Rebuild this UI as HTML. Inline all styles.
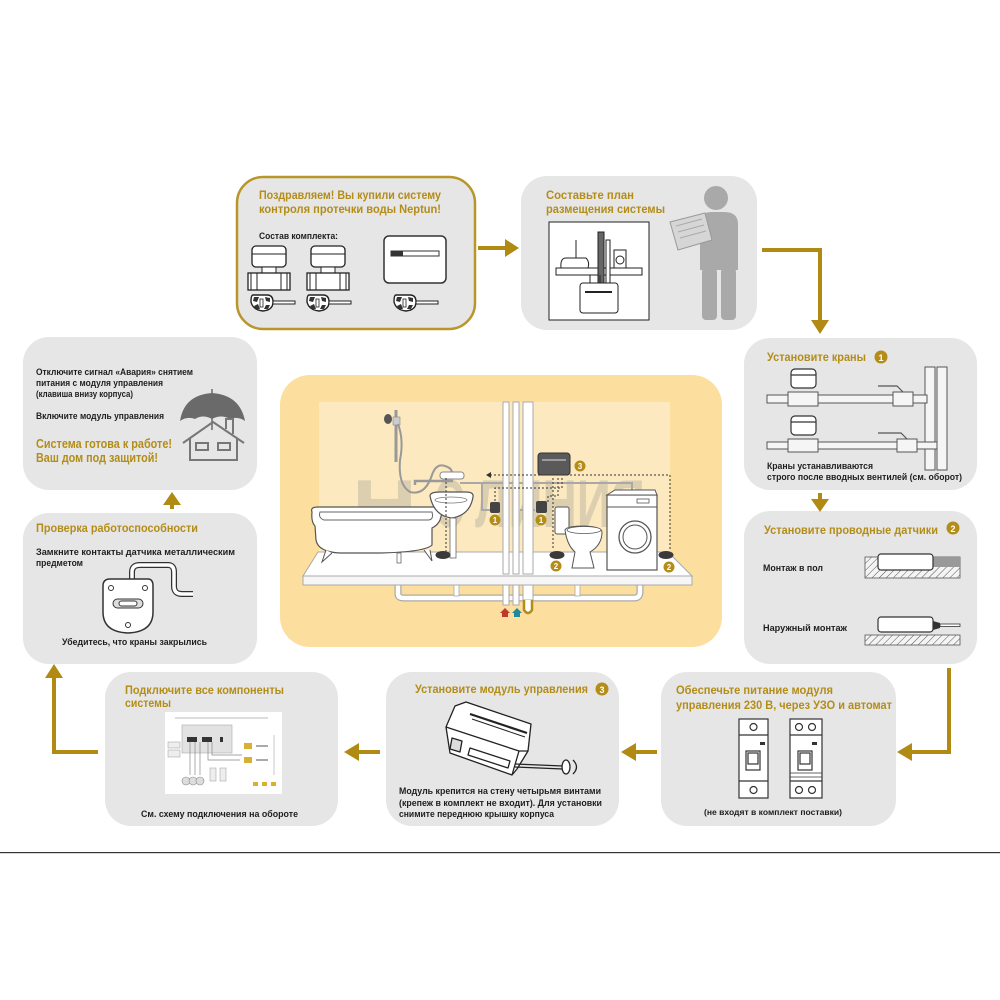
<!DOCTYPE html>
<html><head><meta charset="utf-8"><style>
html,body{margin:0;padding:0;background:#fff;width:1000px;height:1000px;overflow:hidden}
svg{display:block}
.t{font-family:"Liberation Sans","DejaVu Sans",sans-serif;font-weight:bold}
.g{fill:#b38d18}
.b{fill:#1e1e1e}
</style></head><body>
<svg width="1000" height="1000" viewBox="0 0 1000 1000" xmlns="http://www.w3.org/2000/svg">
<defs>
<pattern id="hatch" width="5" height="5" patternUnits="userSpaceOnUse" patternTransform="rotate(45)">
<rect width="5" height="5" fill="#f4f4f4"/><line x1="0" y1="0" x2="0" y2="5" stroke="#555" stroke-width="1"/>
</pattern>
<g id="valve">
<rect x="5" y="0" width="34" height="21" rx="4" fill="#fff" stroke="#222" stroke-width="1.3"/>
<line x1="5" y1="8" x2="39" y2="8" stroke="#222" stroke-width="1"/>
<rect x="15" y="21" width="14" height="6" fill="#fff" stroke="#222" stroke-width="1"/>
<rect x="1" y="27" width="42" height="17" fill="#fff" stroke="#222" stroke-width="1.3"/>
<line x1="10" y1="27" x2="10" y2="44" stroke="#222"/><line x1="34" y1="27" x2="34" y2="44" stroke="#222"/>
<line x1="4" y1="27" x2="4" y2="44" stroke="#222"/><line x1="40" y1="27" x2="40" y2="44" stroke="#222"/>
</g>
<g id="sensor">
<path d="M3 2 H17 Q23 2 23 9 Q23 17 13 18 Q3 17 1 9 Q1 2 3 2 Z" fill="#fff" stroke="#222" stroke-width="1.4"/>
<path d="M4 4 L9 4 L7 9 L3 8 Z M4 13 L8 11 L10 16 L6 16 Z M15 4 L20 5 L20 9 L16 8 Z M16 12 L20 12 L18 16 L14 16 Z" fill="#333"/>
<rect x="10" y="6" width="3" height="8" fill="#fff" stroke="#222" stroke-width="0.8"/>
<rect x="23" y="8" width="22" height="3" fill="#fff" stroke="#222" stroke-width="1"/>
</g>
</defs>

<!-- Boxes -->
<rect x="237" y="177" width="238" height="152" rx="26" fill="#e6e6e6" stroke="#b8962a" stroke-width="2.5"/>
<rect x="521" y="176" width="236" height="154" rx="26" fill="#e6e6e6"/>
<rect x="23" y="337" width="234" height="153" rx="26" fill="#e6e6e6"/>
<rect x="744" y="338" width="233" height="152" rx="26" fill="#e6e6e6"/>
<rect x="23" y="513" width="234" height="151" rx="26" fill="#e6e6e6"/>
<rect x="744" y="511" width="233" height="153" rx="26" fill="#e6e6e6"/>
<rect x="105" y="672" width="233" height="154" rx="26" fill="#e6e6e6"/>
<rect x="386" y="672" width="233" height="154" rx="26" fill="#e6e6e6"/>
<rect x="661" y="672" width="235" height="154" rx="26" fill="#e6e6e6"/>

<!-- bottom line -->
<rect x="0" y="852" width="1000" height="1.2" fill="#333"/>

<!-- Connectors -->
<g fill="none" stroke="#b08a12" stroke-width="4">
<line x1="478" y1="248" x2="507" y2="248"/>
<polyline points="762,250 820,250 820,322"/>
<polyline points="949,668 949,752 910,752"/>
<line x1="634" y1="752" x2="657" y2="752"/>
<line x1="357" y1="752" x2="380" y2="752"/>
<polyline points="98,752 54,752 54,676"/>
<line x1="820" y1="493" x2="820" y2="500"/>
<line x1="172" y1="502" x2="172" y2="509"/>
</g>
<g fill="#b08a12">
<polygon points="505,239 519,248 505,257"/>
<polygon points="811,320 829,320 820,334"/>
<polygon points="811,499 829,499 820,512"/>
<polygon points="912,743 897,752 912,761"/>
<polygon points="636,743 621,752 636,761"/>
<polygon points="359,743 344,752 359,761"/>
<polygon points="45,678 63,678 54,664"/>
<polygon points="163,505 181,505 172,492"/>
</g>

<!-- Box1 -->
<text class="t g" x="259" y="199" font-size="11.5" textLength="182" lengthAdjust="spacingAndGlyphs">Поздравляем! Вы купили систему</text>
<text class="t g" x="259" y="213" font-size="11.5" textLength="182" lengthAdjust="spacingAndGlyphs">контроля протечки воды Neptun!</text>
<text class="t b" x="259" y="239" font-size="9" textLength="79" lengthAdjust="spacingAndGlyphs">Состав комплекта:</text>
<use href="#valve" x="247" y="246"/>
<use href="#valve" x="306" y="246"/>
<use href="#sensor" x="250" y="293"/>
<use href="#sensor" x="306" y="293"/>
<use href="#sensor" x="393" y="293"/>
<rect x="384" y="236" width="62" height="47" rx="5" fill="#fff" stroke="#333" stroke-width="1.5"/>
<rect x="391" y="251" width="48" height="5" fill="#fff" stroke="#333" stroke-width="1"/>
<rect x="391" y="251" width="12" height="5" fill="#333"/>

<!-- Box2 -->
<text class="t g" x="546" y="199" font-size="11.5" textLength="88" lengthAdjust="spacingAndGlyphs">Составьте план</text>
<text class="t g" x="546" y="213" font-size="11.5" textLength="119" lengthAdjust="spacingAndGlyphs">размещения системы</text>
<rect x="549" y="222" width="100" height="98" fill="#fff" stroke="#222" stroke-width="1"/>
<g stroke="#222" stroke-width="1" fill="#fff">
<rect x="556" y="268" width="86" height="7"/>
<path d="M561 268 Q560 258 566 258 L586 258 Q590 262 588 268 Z"/>
<rect x="598" y="232" width="6" height="58" fill="#666"/>
<rect x="606" y="240" width="4" height="50"/>
<rect x="614" y="250" width="12" height="18"/>
<circle cx="620" cy="260" r="4"/>
<line x1="576" y1="240" x2="576" y2="258"/>
<rect x="580" y="283" width="38" height="30" rx="3"/>
<line x1="585" y1="292" x2="612" y2="292" stroke-width="2"/>
<line x1="590" y1="275" x2="590" y2="283"/><line x1="600" y1="275" x2="600" y2="283"/><line x1="610" y1="275" x2="610" y2="283"/>
</g>
<g fill="#a9a9a9">
<circle cx="716" cy="198" r="12"/>
<path d="M700 222 Q700 212 712 212 L724 212 Q738 212 738 224 L738 270 L700 270 Z"/>
<rect x="702" y="268" width="15" height="52" rx="4"/>
<rect x="721" y="268" width="15" height="52" rx="4"/>
</g>
<polygon points="670,222 705,213 712,240 678,250" fill="#d6d6d6" stroke="#999" stroke-width="1"/>
<g stroke="#aaa" stroke-width="1"><line x1="676" y1="226" x2="702" y2="219"/><line x1="678" y1="232" x2="704" y2="225"/><line x1="680" y1="238" x2="706" y2="231"/></g>

<!-- Box3 -->
<text class="t b" x="36" y="375" font-size="9" textLength="157" lengthAdjust="spacingAndGlyphs">Отключите сигнал «Авария» снятием</text>
<text class="t b" x="36" y="386" font-size="9" textLength="127" lengthAdjust="spacingAndGlyphs">питания с модуля управления</text>
<text class="t b" x="36" y="397" font-size="9" textLength="97" lengthAdjust="spacingAndGlyphs">(клавиша внизу корпуса)</text>
<text class="t b" x="36" y="419" font-size="9" textLength="128" lengthAdjust="spacingAndGlyphs">Включите модуль управления</text>
<text class="t g" x="36" y="448" font-size="12.5" textLength="136" lengthAdjust="spacingAndGlyphs">Система готова к работе!</text>
<text class="t g" x="36" y="462" font-size="12.5" textLength="122" lengthAdjust="spacingAndGlyphs">Ваш дом под защитой!</text>
<path d="M180 421 Q184 395 212 393 Q240 395 245 421 Q238 416 230 419 Q221 414 212 419 Q203 414 195 419 Q187 416 180 421 Z" fill="#6a6a6a"/>
<line x1="212" y1="389" x2="212" y2="430" stroke="#6a6a6a" stroke-width="1.5"/>
<g fill="none" stroke="#777" stroke-width="2">
<polyline points="183,443 213,422 244,443"/>
<polyline points="190,438 190,460 237,460 237,438"/>
<polyline points="226,429 226,419 233,419 233,434"/>
<rect x="196" y="443" width="12" height="7"/>
<rect x="218" y="443" width="12" height="7"/>
</g>

<!-- Box5 -->
<text class="t g" x="36" y="532" font-size="12" textLength="162" lengthAdjust="spacingAndGlyphs">Проверка работоспособности</text>
<text class="t b" x="36" y="555" font-size="9" textLength="199" lengthAdjust="spacingAndGlyphs">Замкните контакты датчика металлическим</text>
<text class="t b" x="36" y="566" font-size="9" textLength="47" lengthAdjust="spacingAndGlyphs">предметом</text>
<path d="M132 579 L132 572 Q132 565 140 565 L168 565 Q174 565 174 572 L174 586 Q174 594 182 594 L193 594" fill="none" stroke="#333" stroke-width="6"/>
<path d="M132 579 L132 572 Q132 565 140 565 L168 565 Q174 565 174 572 L174 586 Q174 594 182 594 L193 594" fill="none" stroke="#fff" stroke-width="3.5"/>
<path d="M110 579 L148 579 Q153 579 153 586 L153 612 Q153 632 128 633 Q103 632 103 612 L103 586 Q103 579 110 579 Z" fill="#fff" stroke="#333" stroke-width="1.5"/>
<circle cx="111" cy="588" r="2.5" fill="none" stroke="#333"/>
<circle cx="145" cy="588" r="2.5" fill="none" stroke="#333"/>
<circle cx="128" cy="625" r="2.5" fill="none" stroke="#333"/>
<rect x="113" y="599" width="30" height="9" rx="4.5" fill="#ddd" stroke="#333"/>
<rect x="119" y="601" width="18" height="5" rx="2.5" fill="#fff" stroke="#333"/>
<text class="t b" x="62" y="645" font-size="9" textLength="145" lengthAdjust="spacingAndGlyphs">Убедитесь, что краны закрылись</text>

<!-- Box4 -->
<text class="t g" x="767" y="361" font-size="11.5" textLength="99" lengthAdjust="spacingAndGlyphs">Установите краны</text>
<circle cx="881" cy="357" r="6.5" fill="#b38d18"/>
<text class="t" x="881" y="361" font-size="9" fill="#fff" text-anchor="middle">1</text>
<g stroke="#555" stroke-width="1" fill="#f5f5f5">
<rect x="925" y="367" width="10" height="103"/>
<rect x="937" y="367" width="10" height="103"/>
<rect x="767" y="395" width="160" height="8"/>
<rect x="767" y="442" width="170" height="7"/>
<rect x="893" y="392" width="20" height="14"/>
<rect x="897" y="439" width="20" height="13"/>
<rect x="788" y="392" width="30" height="14"/>
<rect x="788" y="439" width="30" height="13"/>
</g>
<g stroke="#333" stroke-width="1.2" fill="#fff">
<rect x="791" y="369" width="25" height="19" rx="4"/>
<rect x="791" y="416" width="25" height="19" rx="4"/>
<line x1="791" y1="375" x2="816" y2="375"/>
<line x1="791" y1="422" x2="816" y2="422"/>
</g>
<g stroke="#555" stroke-width="1.2" fill="none">
<polyline points="878,386 897,386 903,392"/>
<polyline points="878,433 901,433 907,439"/>
</g>
<text class="t b" x="767" y="469" font-size="9" textLength="106" lengthAdjust="spacingAndGlyphs">Краны устанавливаются</text>
<text class="t b" x="767" y="480" font-size="9" textLength="195" lengthAdjust="spacingAndGlyphs">строго после вводных вентилей (см. оборот)</text>

<!-- Box6 -->
<text class="t g" x="764" y="534" font-size="11.5" textLength="174" lengthAdjust="spacingAndGlyphs">Установите проводные датчики</text>
<circle cx="953" cy="528" r="6.5" fill="#b38d18"/>
<text class="t" x="953" y="532" font-size="9" fill="#fff" text-anchor="middle">2</text>
<text class="t b" x="763" y="571" font-size="9" textLength="60" lengthAdjust="spacingAndGlyphs">Монтаж в пол</text>
<text class="t b" x="763" y="631" font-size="9" textLength="84" lengthAdjust="spacingAndGlyphs">Наружный монтаж</text>
<rect x="865" y="557" width="95" height="21" fill="url(#hatch)" stroke="#555" stroke-width="0.8"/>
<rect x="932" y="557" width="28" height="10" fill="#999"/>
<rect x="878" y="554" width="55" height="16" rx="3" fill="#fff" stroke="#333" stroke-width="1.2"/>
<rect x="865" y="635" width="95" height="10" fill="url(#hatch)" stroke="#555" stroke-width="0.8"/>
<rect x="878" y="617" width="55" height="15" rx="3" fill="#fff" stroke="#333" stroke-width="1.2"/>
<polygon points="933,621 940,623 940,628 933,630" fill="#333"/>
<rect x="940" y="624" width="20" height="2.5" fill="#fff" stroke="#333" stroke-width="0.8"/>

<!-- Bottom-left -->
<text class="t g" x="125" y="694" font-size="11.5" textLength="159" lengthAdjust="spacingAndGlyphs">Подключите все компоненты</text>
<text class="t g" x="125" y="707" font-size="11.5" textLength="46" lengthAdjust="spacingAndGlyphs">системы</text>
<rect x="165" y="712" width="117" height="82" fill="#fff"/>
<rect x="182" y="725" width="50" height="28" fill="#e2e2e2" stroke="#aaa" stroke-width="0.6"/>
<rect x="187" y="737" width="10" height="5" fill="#333"/><rect x="202" y="737" width="10" height="5" fill="#333"/><rect x="220" y="737" width="3" height="5" fill="#333"/>
<rect x="168" y="742" width="12" height="6" fill="#eee" stroke="#999" stroke-width="0.5"/>
<rect x="168" y="750" width="12" height="7" fill="#eee" stroke="#999" stroke-width="0.5"/>
<g fill="none" stroke="#888" stroke-width="0.7"><polyline points="190,742 190,775"/><polyline points="195,742 195,775"/><polyline points="200,742 200,775"/><polyline points="208,742 208,760 240,760"/><polyline points="212,742 212,755 242,755"/></g>
<circle cx="186" cy="781" r="4" fill="#ddd" stroke="#888" stroke-width="0.6"/><circle cx="193" cy="781" r="4" fill="#ddd" stroke="#888" stroke-width="0.6"/><circle cx="200" cy="781" r="4" fill="#ddd" stroke="#888" stroke-width="0.6"/>
<rect x="210" y="768" width="6" height="13" fill="#eee" stroke="#999" stroke-width="0.5"/><rect x="220" y="768" width="6" height="13" fill="#eee" stroke="#999" stroke-width="0.5"/>
<rect x="244" y="743" width="8" height="6" fill="#d9b030"/><rect x="244" y="757" width="8" height="6" fill="#d9b030"/>
<line x1="256" y1="746" x2="268" y2="746" stroke="#555" stroke-width="1"/><line x1="256" y1="760" x2="268" y2="760" stroke="#555" stroke-width="1"/>
<line x1="274" y1="735" x2="274" y2="775" stroke="#bbb" stroke-width="0.8"/>
<rect x="253" y="782" width="5" height="4" fill="#d9b030"/><rect x="262" y="782" width="5" height="4" fill="#d9b030"/><rect x="271" y="782" width="5" height="4" fill="#d9b030"/>
<line x1="175" y1="718" x2="268" y2="718" stroke="#bbb" stroke-width="1"/>
<text class="t b" x="141" y="817" font-size="9" textLength="157" lengthAdjust="spacingAndGlyphs">См. схему подключения на обороте</text>

<!-- Bottom-mid -->
<text class="t g" x="415" y="693" font-size="11.5" textLength="173" lengthAdjust="spacingAndGlyphs">Установите модуль управления</text>
<circle cx="602" cy="689" r="6.5" fill="#b38d18"/>
<text class="t" x="602" y="693" font-size="9" fill="#fff" text-anchor="middle">3</text>
<g stroke="#222" stroke-width="1.3" fill="#fff" stroke-linejoin="round">
<polygon points="455,706 466,702 531,724 528,751 517,769 512,775 450,753 446,727"/>
<polyline points="446,727 519,751 528,751" fill="none"/>
<line x1="519" y1="751" x2="512" y2="775"/>
<polygon points="452,738 462,741 460,752 450,749" fill="#ddd"/>
<polygon points="470,748 510,761 508,768 468,755" fill="#fff"/>
<line x1="515" y1="764" x2="563" y2="766"/>
<line x1="515" y1="767" x2="563" y2="769"/>
<ellipse cx="566" cy="767" rx="4" ry="7"/>
<path d="M573 760 Q580 767 573 774" fill="none"/>
</g>
<line x1="470" y1="714" x2="527" y2="733" stroke="#222" stroke-width="2.2"/>
<line x1="472" y1="719" x2="525" y2="737" stroke="#222" stroke-width="1"/>
<text class="t b" x="399" y="794" font-size="9" textLength="202" lengthAdjust="spacingAndGlyphs">Модуль крепится на стену четырьмя винтами</text>
<text class="t b" x="399" y="806" font-size="9" textLength="203" lengthAdjust="spacingAndGlyphs">(крепеж в комплект не входит). Для установки</text>
<text class="t b" x="399" y="817" font-size="9" textLength="155" lengthAdjust="spacingAndGlyphs">снимите переднюю крышку корпуса</text>

<!-- Bottom-right -->
<text class="t g" x="676" y="694" font-size="11.5" textLength="157" lengthAdjust="spacingAndGlyphs">Обеспечьте питание модуля</text>
<text class="t g" x="676" y="709" font-size="11.5" textLength="216" lengthAdjust="spacingAndGlyphs">управления 230 В, через УЗО и автомат</text>
<g stroke="#333" stroke-width="1.2" fill="#fff">
<rect x="739" y="719" width="29" height="79"/>
<line x1="739" y1="735" x2="768" y2="735"/><line x1="739" y1="781" x2="768" y2="781"/>
<circle cx="753.5" cy="727" r="3.5"/><circle cx="753.5" cy="790" r="3.5"/>
<rect x="746" y="751" width="14" height="19"/><rect x="748" y="753" width="10" height="11"/>
<rect x="790" y="719" width="32" height="79"/>
<line x1="790" y1="735" x2="822" y2="735"/><line x1="790" y1="781" x2="822" y2="781"/>
<line x1="790" y1="773" x2="822" y2="773" stroke-width="0.7"/><line x1="790" y1="777" x2="822" y2="777" stroke-width="0.7"/>
<circle cx="799" cy="727" r="3.5"/><circle cx="812" cy="727" r="3.5"/><circle cx="799" cy="790" r="3.5"/><circle cx="812" cy="790" r="3.5"/>
<rect x="798" y="751" width="14" height="19"/><rect x="800" y="753" width="10" height="11"/>
</g>
<rect x="760" y="742" width="5" height="3" fill="#333"/><rect x="812" y="742" width="5" height="3" fill="#333"/>
<text class="t b" x="704" y="815" font-size="8.5" textLength="138" lengthAdjust="spacingAndGlyphs">(не входят в комплект поставки)</text>

<!-- Center illustration -->
<rect x="280" y="375" width="442" height="272" rx="30" fill="#fcdf9e"/>
<rect x="319" y="402" width="351" height="160" fill="#fce9bf"/>
<!-- watermark -->
<g fill="#8d8d8d" opacity="0.28" class="t">
<text x="352" y="527" font-size="68" textLength="65" lengthAdjust="spacingAndGlyphs">H</text>
<text x="415" y="532" font-size="30">2</text>
<text x="434" y="527" font-size="68" textLength="32" lengthAdjust="spacingAndGlyphs">O</text>
<text x="475" y="527" font-size="68" textLength="170" lengthAdjust="spacingAndGlyphs">ЛИНИЯ</text>
</g>
<!-- under-floor pipes -->
<path d="M398 584 L398 594 Q398 598 404 598 L634 598 Q640 598 640 592 L640 584" fill="none" stroke="#aaa" stroke-width="7"/>
<path d="M398 584 L398 594 Q398 598 404 598 L634 598 Q640 598 640 592 L640 584" fill="none" stroke="#fff" stroke-width="4.5"/>
<rect x="454" y="584" width="5" height="12" fill="#fff" stroke="#aaa" stroke-width="0.8"/>
<rect x="575" y="584" width="5" height="12" fill="#fff" stroke="#aaa" stroke-width="0.8"/>
<!-- floor -->
<polygon points="318,552 668,552 692,576 303,576" fill="#fff" stroke="#aaa" stroke-width="1"/>
<rect x="303" y="576" width="389" height="9" fill="#f6f6f6" stroke="#aaa" stroke-width="1"/>
<!-- gray water pipes -->
<g fill="none" stroke="#a8a8a8" stroke-width="2">
<polyline points="460,483 632,483 632,495"/>
<polyline points="482,483 482,510 490,510"/>
<polyline points="520,510 535,510"/>
</g>
<!-- risers -->
<g fill="#fff" stroke="#aaa" stroke-width="1">
<rect x="503" y="402" width="6" height="172"/>
<rect x="513" y="402" width="6" height="172"/>
<rect x="523" y="402" width="10" height="172"/>
<rect x="503" y="585" width="6" height="20"/>
<rect x="513" y="585" width="6" height="20"/>
<rect x="523" y="585" width="10" height="15"/>
</g>
<polygon points="505,608 510,613 508,613 508,617 502,617 502,613 500,613" fill="#c0392b"/>
<polygon points="517,608 522,613 520,613 520,617 514,617 514,613 512,613" fill="#1f8a9a"/>
<path d="M524 600 L524 610 Q528 616 532 610 L532 600" fill="#fff" stroke="#b38d18" stroke-width="2.5"/>
<!-- shower -->
<line x1="396" y1="410" x2="396" y2="462" stroke="#999" stroke-width="3"/>
<rect x="393" y="417" width="7" height="8" fill="#ccc" stroke="#888" stroke-width="0.6"/>
<ellipse cx="388" cy="419" rx="4" ry="5" fill="#555"/>
<path d="M398 424 Q404 440 400 460 Q398 485 410 492 Q425 496 432 475 Q436 463 445 466 Q452 468 452 473" fill="none" stroke="#999" stroke-width="2"/>
<rect x="440" y="472" width="24" height="7" rx="3" fill="#fff" stroke="#888" stroke-width="1"/>
<polyline points="415,485 415,481 453,481" fill="none" stroke="#999" stroke-width="2.5"/>
<!-- bathtub -->
<path d="M312 512 Q310 507 318 507 L436 507 Q444 507 442 513 L440 520 Q438 525 432 528 L432 545 Q425 552 380 553 L340 553 Q318 552 316 540 L315 526 Q311 522 312 512 Z" fill="#fff" stroke="#555" stroke-width="1.2"/>
<path d="M320 512 L432 512 Q434 520 428 520 L324 520 Q318 518 320 512 Z" fill="#fff" stroke="#666" stroke-width="1"/>
<path d="M326 550 L322 562 L332 553 M424 550 L432 561 L430 550" fill="#fff" stroke="#555" stroke-width="1"/>
<rect x="397" y="553" width="4" height="10" fill="#fff" stroke="#666" stroke-width="0.8"/>
<!-- sink -->
<path d="M430 496 Q430 492 440 492 L466 492 Q474 492 473 497 Q470 515 452 518 Q434 516 430 496 Z" fill="#fff" stroke="#555" stroke-width="1.2"/>
<ellipse cx="451" cy="500" rx="16" ry="3" fill="#fff" stroke="#777" stroke-width="0.8"/>
<rect x="450" y="518" width="6" height="40" fill="#fff" stroke="#666" stroke-width="0.8"/>
<!-- dashed wiring -->
<g fill="none" stroke="#333" stroke-width="1" stroke-dasharray="2,2">
<polyline points="446,478 446,553"/>
<polyline points="490,475 670,475 670,550"/>
<polyline points="553,478 553,548"/>
<polyline points="558,478 558,496 548,496 548,502"/>
<polyline points="562,478 562,488 495,488 495,502"/>
</g>
<polygon points="486,475 491,472 491,478" fill="#333"/>
<!-- valves -->
<rect x="490" y="502" width="10" height="11" rx="2" fill="#444"/>
<rect x="536" y="501" width="11" height="12" rx="2" fill="#444"/>
<!-- module -->
<rect x="538" y="453" width="32" height="22" rx="3" fill="#5a5a5a" stroke="#333" stroke-width="1"/>
<line x1="542" y1="460" x2="566" y2="460" stroke="#ddd" stroke-width="1"/>
<!-- toilet -->
<rect x="555" y="507" width="14" height="27" rx="2" fill="#fff" stroke="#555" stroke-width="1"/>
<path d="M565 530 Q566 526 585 526 Q602 527 602 532 Q602 545 590 552 L594 568 L572 568 L575 552 Q567 545 565 530 Z" fill="#fff" stroke="#555" stroke-width="1"/>
<ellipse cx="584" cy="530" rx="17" ry="3.5" fill="#fff" stroke="#555" stroke-width="0.8"/>
<!-- washer -->
<rect x="607" y="495" width="50" height="75" fill="#fff" stroke="#555" stroke-width="1.2"/>
<polygon points="607,495 615,490 655,490 657,495" fill="#fff" stroke="#555" stroke-width="1"/>
<line x1="607" y1="507" x2="657" y2="507" stroke="#555" stroke-width="1"/>
<rect x="637" y="499" width="12" height="4" fill="#fff" stroke="#555" stroke-width="0.8"/>
<circle cx="635" cy="537" r="16" fill="#fff" stroke="#555" stroke-width="1.3"/>
<circle cx="635" cy="537" r="12" fill="#fff" stroke="#555" stroke-width="1"/>
<!-- sensors -->
<ellipse cx="443" cy="555" rx="7.5" ry="4" fill="#3a3a3a"/>
<ellipse cx="557" cy="555" rx="7.5" ry="4" fill="#3a3a3a"/>
<ellipse cx="666" cy="555" rx="7.5" ry="4" fill="#3a3a3a"/>
<!-- number badges -->
<g fill="#b38d18"><circle cx="495" cy="520" r="5.5"/><circle cx="541" cy="520" r="5.5"/><circle cx="580" cy="466" r="5.5"/><circle cx="556" cy="566" r="5.5"/><circle cx="669" cy="567" r="5.5"/></g>
<g class="t" fill="#fff" font-size="8" text-anchor="middle">
<text x="495" y="523">1</text><text x="541" y="523">1</text><text x="580" y="469">3</text><text x="556" y="569">2</text><text x="669" y="570">2</text>
</g>
</svg>
</body></html>
